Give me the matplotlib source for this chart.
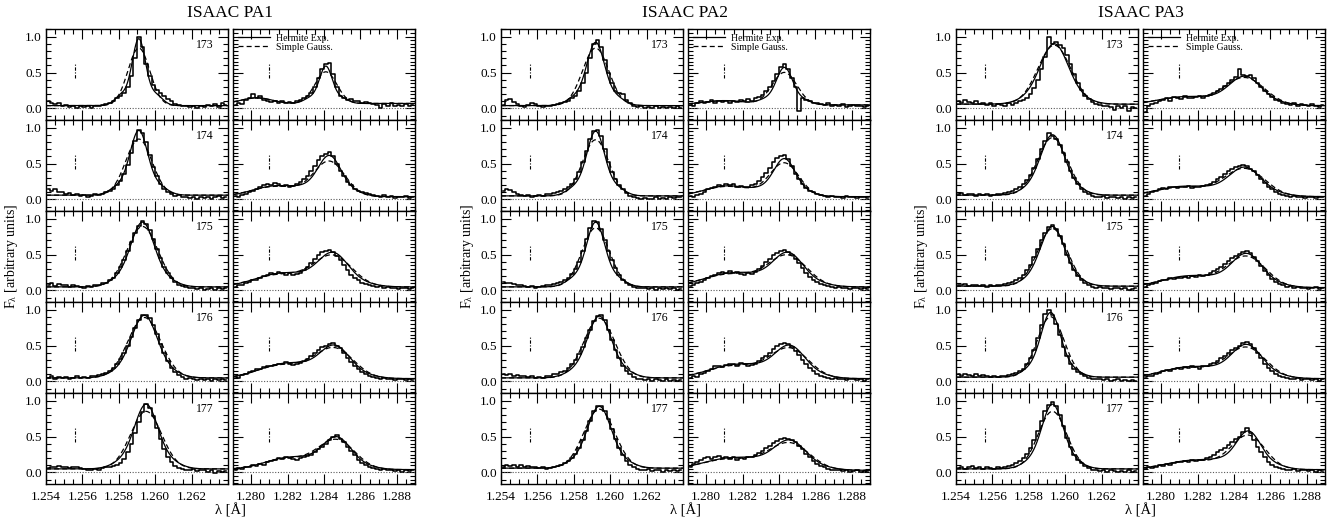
import numpy as np
import matplotlib
matplotlib.use('Agg')
import matplotlib.pyplot as plt
from matplotlib.ticker import MultipleLocator, FormatStrFormatter
from matplotlib.lines import Line2D

plt.rcParams['font.family'] = ['Liberation Serif', 'DejaVu Serif']
plt.rcParams['mathtext.fontset'] = 'stix'

# ---------------- data ----------------
group_titles = ['ISAAC PA1', 'ISAAC PA2', 'ISAAC PA3']
slit_ids = ['173', '174', '175', '176', '177']
left_start, right_start, bin_step, n_bins = 1.2541, 1.2791, 0.0002, 50
left_xlim = (1.254, 1.264)
right_xlim = (1.279, 1.289)
left_ticks = [1.254, 1.256, 1.258, 1.260, 1.262]
right_ticks = [1.280, 1.282, 1.284, 1.286, 1.288]
marker_left, marker_right, marker_y = 1.2556, 1.2810, (0.42, 0.62)

# observed spectra (binned), left = [FeII] 1.257 window, right = Pa-beta window
pa1_left_obs = [
    [.10,.08,.06,.07,.03,.05,.02,.04,.01,.03, .02,.03,.01,.04,.03,.05,.06,.08,.11,.14, .17,.22,.30,.45,.70,1.00,.85,.62,.45,.33, .26,.22,.18,.13,.10,.06,.05,.03,.04,.02, .03,.01,.04,.02,.05,.03,.06,.02,.08,.05],
    [.15,.12,.14,.10,.11,.08,.09,.06,.07,.05, .06,.04,.05,.07,.06,.08,.10,.12,.15,.20, .26,.35,.48,.65,.82,.97,.93,.80,.62,.45, .32,.22,.15,.10,.08,.05,.06,.03,.04,.02, .04,.01,.03,.02,.04,.01,.03,.05,.02,.04],
    [.08,.10,.06,.09,.07,.08,.05,.07,.06,.05, .04,.06,.05,.07,.08,.10,.11,.14,.18,.24, .32,.42,.55,.68,.80,.90,.96,.92,.84,.72, .58,.45,.33,.24,.17,.12,.08,.06,.05,.03, .04,.02,.03,.01,.02,.04,.01,.03,.02,.03],
    [.05,.07,.04,.06,.05,.06,.04,.05,.07,.05, .06,.05,.07,.08,.09,.10,.12,.15,.19,.24, .31,.40,.50,.62,.74,.85,.92,.93,.88,.78, .66,.52,.39,.28,.19,.13,.09,.06,.04,.05, .03,.02,.04,.02,.03,.01,.03,.02,.04,.02],
    [.06,.08,.07,.09,.07,.08,.06,.08,.07,.06, .05,.04,.03,.05,.04,.06,.07,.08,.09,.10, .13,.19,.28,.40,.55,.70,.84,.95,.90,.78, .62,.47,.33,.22,.14,.09,.06,.05,.04,.03, .05,.02,.04,.03,.01,.03,-.01,.02,.00,.02],
]
pa1_right_obs = [
    [.05,.08,.06,.12,.15,.20,.14,.17,.12,.10, .09,.11,.08,.10,.07,.09,.08,.10,.12,.14, .17,.22,.30,.42,.55,.62,.63,.48,.30,.18, .15,.12,.13,.10,.11,.08,.09,.07,.06,.05, .00,.06,.04,.07,.03,.05,.04,.06,.03,.05],
    [.05,.03,.06,.08,.10,.12,.15,.18,.20,.22, .20,.23,.21,.19,.20,.18,.19,.21,.24,.28, .33,.40,.47,.55,.60,.63,.66,.60,.50,.40, .32,.25,.20,.15,.12,.10,.09,.07,.06,.05, .04,.06,.03,.05,.02,.04,.03,.05,.02,.04],
    [.05,.08,.07,.10,.12,.15,.14,.18,.20,.22, .24,.23,.26,.25,.22,.24,.21,.23,.25,.29, .33,.38,.44,.50,.54,.55,.56,.53,.48,.42, .35,.28,.22,.18,.14,.11,.09,.08,.06,.05, .06,.04,.05,.03,.04,.02,.04,.03,.02,.03],
    [.06,.05,.09,.11,.13,.15,.17,.18,.20,.22, .21,.23,.25,.24,.27,.25,.23,.24,.26,.28, .31,.35,.39,.44,.48,.50,.52,.53,.50,.46, .40,.33,.27,.22,.17,.13,.10,.08,.06,.05, .04,.05,.03,.04,.02,.03,.04,.02,.03,.02],
    [.04,.06,.05,.08,.07,.10,.09,.12,.11,.14, .16,.18,.20,.19,.21,.20,.19,.18,.20,.22, .23,.25,.28,.32,.35,.40,.45,.50,.52,.47, .42,.36,.30,.24,.18,.13,.10,.08,.06,.05, .04,.05,.03,.04,.02,.03,.01,.03,.02,.04],
]
pa2_left_obs = [
    [.05,.12,.13,.09,.06,.03,.02,.05,.08,.06, .03,.02,.04,.03,.05,.06,.08,.09,.11,.14, .18,.25,.35,.50,.70,.90,.95,.85,.68,.50, .35,.25,.22,.20,.12,.07,.04,.02,.03,.01, .02,.00,.03,.01,.02,.00,.02,.01,.03,.01],
    [.12,.15,.13,.10,.08,.06,.05,.06,.04,.05, .06,.05,.07,.08,.09,.10,.12,.14,.17,.22, .28,.38,.52,.68,.84,.95,.97,.88,.70,.52, .38,.28,.20,.14,.09,.05,.03,.02,.01,.02, .00,.01,.03,.00,.02,.01,.03,.02,.04,.03],
    [.12,.10,.11,.09,.08,.07,.06,.05,.06,.04, .05,.06,.07,.08,.09,.10,.12,.15,.18,.23, .30,.40,.55,.72,.87,.97,.95,.85,.70,.55, .42,.31,.22,.15,.10,.07,.05,.04,.03,.04, .02,.03,.01,.03,.02,.04,.02,.03,.01,.02],
    [.10,.09,.11,.08,.09,.07,.08,.06,.07,.05, .06,.05,.07,.08,.10,.11,.13,.15,.19,.24, .30,.38,.48,.60,.72,.84,.91,.92,.85,.72, .58,.44,.32,.22,.15,.10,.06,.04,.03,.02, .04,.01,.03,.02,.01,.03,.00,.02,.01,.02],
    [.08,.10,.09,.11,.08,.10,.07,.09,.08,.07, .06,.07,.05,.06,.08,.09,.11,.13,.16,.20, .26,.34,.45,.58,.72,.85,.92,.93,.86,.74, .60,.46,.34,.24,.16,.10,.07,.05,.04,.03, .05,.02,.04,.03,.01,.03,.02,.04,.02,.03],
]
pa2_right_obs = [
    [.06,.04,.08,.10,.07,.09,.12,.08,.10,.09, .11,.08,.10,.09,.12,.10,.13,.11,.14,.16, .19,.24,.30,.38,.48,.58,.62,.55,.42,.30, -.03,.15,.12,.10,.08,.07,.06,.05,.07,.04, .05,.03,.06,.02,.04,.05,.03,.04,.02,.03],
    [.05,.03,.06,.08,.11,.14,.16,.18,.20,.19, .22,.20,.21,.18,.19,.17,.18,.20,.22,.26, .31,.37,.44,.52,.58,.60,.62,.56,.46,.36, .28,.21,.16,.12,.10,.08,.06,.05,.04,.05, .03,.04,.02,.05,.03,.04,.02,.03,.04,.02],
    [.06,.08,.10,.12,.15,.18,.20,.22,.24,.26, .25,.27,.24,.26,.23,.22,.24,.23,.26,.30, .34,.39,.44,.49,.52,.55,.56,.54,.50,.44, .38,.31,.25,.19,.15,.12,.09,.07,.06,.05, .04,.05,.03,.04,.02,.03,.04,.02,.03,.02],
    [.05,.07,.06,.10,.12,.15,.18,.21,.22,.20, .23,.25,.24,.22,.26,.24,.22,.23,.25,.29, .32,.36,.40,.45,.49,.52,.54,.52,.48,.43, .37,.30,.24,.19,.14,.11,.08,.06,.05,.04, .05,.03,.04,.02,.03,.04,.02,.03,.01,.03],
    [.08,.12,.15,.18,.20,.22,.19,.21,.23,.20, .22,.19,.21,.18,.20,.19,.21,.22,.24,.27, .30,.34,.37,.41,.44,.46,.48,.47,.45,.42, .37,.32,.26,.21,.16,.12,.09,.07,.05,.04, .03,.04,.02,.03,.01,.02,.03,.01,.02,.01],
]
pa3_left_obs = [
    [.10,.08,.12,.09,.07,.10,.06,.08,.05,.07, .04,.06,.05,.03,.07,.05,.08,.10,.12,.15, .20,.28,.40,.55,.72,1.00,.90,.93,.88,.84, .75,.62,.48,.36,.26,.18,.13,.09,.06,.05, .03,.04,.02,-.02,.04,.01,.03,-.04,.02,.01],
    [.07,.09,.06,.08,.07,.05,.08,.06,.07,.05, .06,.08,.07,.09,.10,.12,.14,.17,.21,.27, .34,.44,.56,.70,.82,.92,.88,.84,.76,.64, .52,.40,.30,.22,.15,.10,.07,.05,.04,.03, .05,.02,.04,.03,.02,.04,.01,.03,.02,.04],
    [.08,.07,.09,.06,.08,.07,.06,.08,.05,.07, .06,.07,.08,.09,.10,.12,.14,.17,.22,.28, .36,.46,.58,.70,.80,.88,.91,.86,.76,.64, .50,.38,.28,.20,.14,.10,.07,.05,.04,.05, .03,.04,.02,.03,.04,.02,.03,.01,.02,.03],
    [.10,.08,.11,.09,.07,.10,.08,.09,.07,.06, .07,.06,.08,.07,.09,.10,.12,.14,.18,.24, .32,.44,.60,.78,.94,1.00,.92,.80,.64,.48, .35,.25,.18,.13,.10,.07,.05,.04,.03,.04, .02,.03,.01,.02,.03,.01,.02,.00,.02,.01],
    [.06,.08,.05,.07,.09,.06,.08,.05,.07,.06, .05,.07,.06,.08,.09,.11,.13,.16,.20,.26, .34,.45,.58,.72,.85,.94,.98,.92,.80,.64, .48,.35,.25,.18,.13,.09,.06,.04,.03,.02, .04,.01,.03,.02,.00,.02,.01,.03,.01,.02],
]
pa3_right_obs = [
    [-.05,.04,.06,.08,.10,.12,.14,.11,.16,.15, .13,.17,.15,.14,.16,.18,.15,.17,.19,.21, .24,.27,.31,.35,.40,.44,.55,.47,.45,.46, .42,.36,.30,.25,.20,.16,.12,.10,.08,.06, .05,.07,.04,.06,.05,.03,.06,.04,.02,.05],
    [.05,.08,.10,.12,.14,.16,.15,.17,.18,.16, .18,.17,.19,.16,.18,.17,.19,.20,.22,.25, .28,.31,.35,.39,.42,.45,.47,.48,.46,.43, .39,.34,.28,.23,.18,.14,.11,.08,.06,.05, .04,.05,.03,.04,.02,.04,.03,.02,.04,.03],
    [.05,.07,.09,.11,.13,.15,.14,.17,.16,.18, .17,.19,.18,.20,.19,.21,.20,.22,.24,.27, .30,.33,.37,.41,.45,.48,.51,.54,.55,.52, .47,.41,.34,.27,.21,.16,.12,.09,.07,.05, .06,.04,.05,.03,.04,.02,.03,.05,.02,.03],
    [.06,.08,.07,.10,.12,.14,.16,.15,.17,.19, .18,.20,.19,.21,.20,.18,.21,.22,.24,.26, .29,.32,.36,.40,.44,.47,.50,.53,.55,.52, .46,.39,.32,.25,.19,.14,.11,.08,.06,.05, .04,.03,.05,.02,.04,.03,.02,.04,.01,.03],
    [.05,.07,.06,.08,.10,.09,.12,.11,.13,.15, .14,.16,.15,.17,.16,.18,.17,.20,.22,.25, .28,.31,.34,.38,.42,.46,.50,.56,.62,.55, .45,.36,.28,.21,.15,.11,.08,.06,.05,.04, .03,.05,.02,.04,.03,.02,.04,.01,.03,.02],
]

# fit parameters (rows: PA1, PA2, PA3; columns: slits 173..177)
left_base = [[.04,.06,.05,.05,.05], [.04,.05,.05,.05,.06], [.06,.06,.06,.06,.05]]
left_cen = [[1.2591,1.2591,1.2593,1.2594,1.2595], [1.2592,1.2592,1.2592,1.2594,1.2594], [1.2594,1.2593,1.2593,1.2592,1.2593]]
left_peak = [[.93,.90,.90,.87,.90], [.88,.90,.90,.86,.86], [.84,.84,.83,.90,.90]]
left_sig = [[.00048,.00060,.00075,.00080,.00075], [.00060,.00060,.00062,.00075,.00075], [.00085,.00075,.00075,.00064,.00068]]
left_h4 = [[.12,.08,.05,.04,.05], [.08,.08,.08,.05,.05], [.03,.04,.04,.06,.05]]
left_gpeak = [[.80,.78,.84,.84,.80], [.80,.78,.82,.83,.82], [.82,.80,.80,.84,.80]]
left_gsig = [[.00060,.00072,.00085,.00090,.00085], [.00072,.00072,.00075,.00085,.00085], [.00090,.00082,.00082,.00074,.00078]]

right_base = [[.07,.04,.05,.04,.04], [.05,.04,.05,.04,.03], [.04,.04,.04,.04,.04]]
right_cen = [[1.2841,1.2843,1.2845,1.2846,1.2847], [1.2843,1.2843,1.2845,1.2846,1.2846], [1.2846,1.2846,1.2847,1.2847,1.2848]]
right_peak = [[.52,.56,.46,.44,.44], [.52,.52,.46,.44,.40], [.40,.40,.46,.46,.52]]
right_sig = [[.00045,.00075,.00095,.00095,.00090], [.00055,.00070,.00095,.00095,.00100], [.00100,.00100,.00095,.00095,.00080]]
right_h4 = [[.10,.05,.04,.04,.04], [.08,.05,.04,.04,.04], [.04,.04,.04,.04,.06]]
right_gpeak = [[.44,.48,.42,.40,.40], [.45,.46,.42,.40,.36], [.38,.38,.42,.42,.46]]
right_gsig = [[.00060,.00085,.00105,.00105,.00100], [.00068,.00080,.00105,.00105,.00110], [.00110,.00110,.00105,.00105,.00092]]
shoulder_cen = [[1.2803,1.2814,1.2816,1.2818,1.2820], [1.2810,1.2812,1.2814,1.2816,1.2814], [1.2812,1.2812,1.2815,1.2815,1.2818]]
shoulder_amp = [[.08,.15,.18,.20,.16], [.06,.15,.19,.19,.17], [.12,.14,.16,.16,.13]]
shoulder_sig = [[.0008,.0013,.0014,.0014,.0013], [.0012,.0013,.0015,.0015,.0016], [.0015,.0015,.0015,.0015,.0015]]

left_obs = [pa1_left_obs, pa2_left_obs, pa3_left_obs]
right_obs = [pa1_right_obs, pa2_right_obs, pa3_right_obs]


# ---------------- model profiles ----------------
def hermite(x, peak, c, s, h4):
    t = (x - c) / s
    H4 = (4 * t**4 - 12 * t**2 + 3) / np.sqrt(24)
    return peak / (1 + h4 * 3 / np.sqrt(24)) * np.exp(-0.5 * t**2) * (1 + h4 * H4)


def gauss(x, peak, c, s):
    return peak * np.exp(-0.5 * ((x - c) / s) ** 2)


# ---------------- figure ----------------
W, H = 1330, 523
fig = plt.figure(figsize=(W / 100, H / 100), dpi=100)
group_x = [46, 501, 956]
top0, row_h, pw, right_off = 29, 91, 182, 187
ylim = (-0.16, 1.105)

lw_data, lw_fit = 1.15, 0.9

for g, gx in enumerate(group_x):
    for r in range(5):
        for side in (0, 1):
            x0 = gx + side * right_off
            ax = fig.add_axes([x0 / W, 1 - (top0 + (r + 1) * row_h) / H, pw / W, row_h / H])
            if side == 0:
                start, xl, ticks, mk = left_start, left_xlim, left_ticks, marker_left
                obs = left_obs[g][r]
            else:
                start, xl, ticks, mk = right_start, right_xlim, right_ticks, marker_right
                obs = right_obs[g][r]
            wave = start + bin_step * np.arange(len(obs))
            xm = np.linspace(xl[0], xl[1], 500)
            if side == 0:
                b = left_base[g][r]
                herm = b + hermite(xm, left_peak[g][r], left_cen[g][r], left_sig[g][r], left_h4[g][r])
                gau = b + gauss(xm, left_gpeak[g][r], left_cen[g][r], left_gsig[g][r])
            else:
                b = right_base[g][r]
                sh = gauss(xm, shoulder_amp[g][r], shoulder_cen[g][r], shoulder_sig[g][r])
                herm = b + sh + hermite(xm, right_peak[g][r], right_cen[g][r], right_sig[g][r], right_h4[g][r])
                gau = b + gauss(xm, shoulder_amp[g][r] * 0.95, shoulder_cen[g][r], shoulder_sig[g][r] * 1.05) \
                    + gauss(xm, right_gpeak[g][r], right_cen[g][r], right_gsig[g][r])

            ax.axhline(0, color='0.35', lw=0.8, ls=(0, (1, 1.5)))
            ax.step(wave, obs, where='mid', color='black', lw=lw_data)
            ax.plot(xm, herm, color='black', lw=lw_fit)
            ax.plot(xm, gau, color='black', lw=lw_fit, ls=(0, (4, 2.5)))
            ax.plot([mk, mk], marker_y, color='black', lw=0.8, ls=(0, (3, 1.5, 1, 1.5)))

            ax.set_xlim(*xl)
            ax.set_ylim(*ylim)
            ax.set_xticks(ticks)
            ax.xaxis.set_minor_locator(MultipleLocator(0.0005))
            ax.xaxis.set_major_formatter(FormatStrFormatter('%.3f'))
            ax.yaxis.set_major_locator(MultipleLocator(0.5))
            ax.yaxis.set_major_formatter(FormatStrFormatter('%.1f'))
            ax.yaxis.set_minor_locator(MultipleLocator(0.1 if side == 0 else 0.05))
            ax.tick_params(which='both', direction='in', top=True, right=True,
                           labelsize=9.5, width=0.8, pad=3)
            ax.tick_params(which='major', length=7)
            ax.tick_params(which='minor', length=3.5)
            ax.tick_params(axis='x', labelbottom=(r == 4), pad=5)
            ax.tick_params(axis='y', labelleft=(side == 0))
            for sp in ax.spines.values():
                sp.set_linewidth(1.0)

            if side == 0:
                ax.text(0.87, 0.82, slit_ids[r], transform=ax.transAxes,
                        ha='center', va='center', fontsize=8.5)
            if side == 1 and r == 0:
                handles = [Line2D([], [], color='black', lw=lw_fit),
                           Line2D([], [], color='black', lw=lw_fit, ls=(0, (4, 2.5)))]
                ax.legend(handles, ['Hermite Exp.', 'Simple Gauss.'], loc='upper left',
                          fontsize=7, frameon=False, handlelength=3.3, handletextpad=0.6,
                          labelspacing=0.0, borderaxespad=0.3, borderpad=0.2)

    cx = (gx + (right_off + pw) / 2) / W
    fig.text(cx, 1 - 13 / H, group_titles[g], ha='center', va='center', fontsize=12.5)
    fig.text(cx, 1 - 510 / H, 'λ [Å]', ha='center', va='center', fontsize=10.5)
    fig.text((gx - 34) / W, 1 - 256 / H, r'F$_\mathregular{λ}$ [arbitrary units]', ha='center',
             va='center', rotation=90, fontsize=10)

fig.savefig('out.png', dpi=100)
